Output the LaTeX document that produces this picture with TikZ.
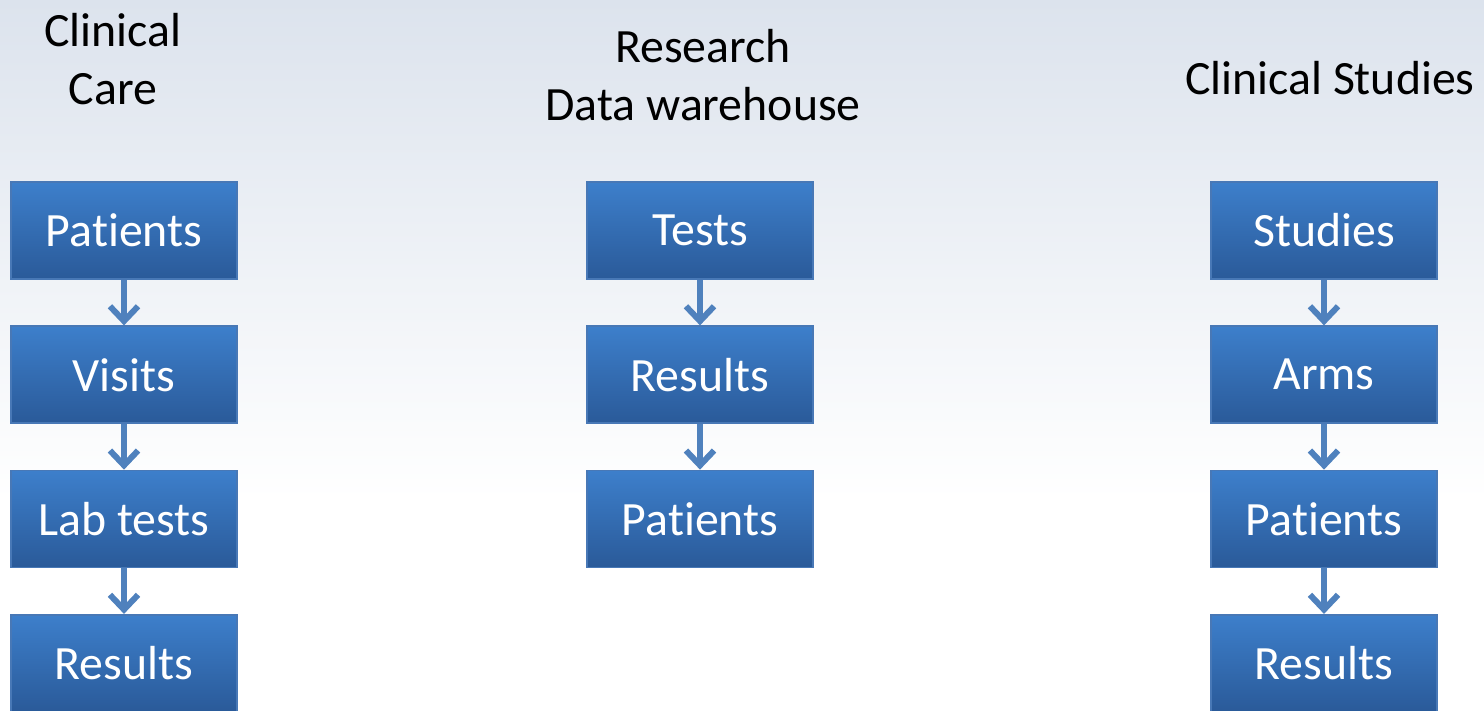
\documentclass[tikz,border=0pt]{standalone}
\usepackage{fontspec}
\setmainfont[Ligatures=NoCommon]{Carlito}
\usetikzlibrary{calc, positioning, arrows.meta}

\definecolor{boxTop}{RGB}{61,127,203}
\definecolor{boxBot}{RGB}{42,90,153}
\definecolor{boxEdge}{RGB}{72,120,182}
\definecolor{linkBlue}{RGB}{79,129,189}
\definecolor{skyTop}{RGB}{220,227,237}

\tikzset{
  boxNode/.style={draw=boxEdge, line width=0.5pt, top color=boxTop, bottom color=boxBot,
    text=white, minimum width=2.26cm, minimum height=0.97cm, inner sep=0pt,
    font=\fontsize{13.6}{15}\selectfont},
  linkArrow/.style={draw=linkBlue, line width=1.7pt, -{Straight Barb[length=4.2pt,width=8pt]}},
  headText/.style={align=center, font=\fontsize{13.6}{16.4}\selectfont}
}

\begin{document}
\begin{tikzpicture}[node distance=0.455cm]
        \useasboundingbox (0,0) rectangle (14.84,-7.10);
        \fill[white] (0,0) rectangle (14.84,-7.10);
        \shade[top color=skyTop, bottom color=white] (0,0) rectangle (14.84,-5.0);

        % column titles
        \node[headText] (tCare) at (1.13,-0.59) {Clinical\\Care};
        \node[headText] (tDwh) at (7.03,-0.75) {Research\\Data warehouse};
        \node[headText] (tStudy) at (13.30,-0.78) {Clinical Studies};

        % clinical care
        \node[boxNode] (nPatA) at (1.24,-2.305) {Patients};
        \node[boxNode, below=of nPatA] (nVisA) {Visits};
        \node[boxNode, below=of nVisA] (nLabA) {Lab tests};
        \node[boxNode, below=of nLabA] (nResA) {Results};

        % data warehouse
        \node[boxNode] (nTstB) at (7.00,-2.305) {Tests};
        \node[boxNode, below=of nTstB] (nResB) {Results};
        \node[boxNode, below=of nResB] (nPatB) {Patients};

        % clinical studies
        \node[boxNode] (nStuC) at (13.24,-2.305) {Studies};
        \node[boxNode, below=of nStuC] (nArmC) {Arms};
        \node[boxNode, below=of nArmC] (nPatC) {Patients};
        \node[boxNode, below=of nPatC] (nResC) {Results};

       \foreach \u/\v in
       {nPatA/nVisA, nVisA/nLabA, nLabA/nResA,
        nTstB/nResB, nResB/nPatB,
        nStuC/nArmC, nArmC/nPatC, nPatC/nResC}
        {
            \draw[linkArrow] (\u.south) -- (\v.north);
        };
\end{tikzpicture}
\end{document}
